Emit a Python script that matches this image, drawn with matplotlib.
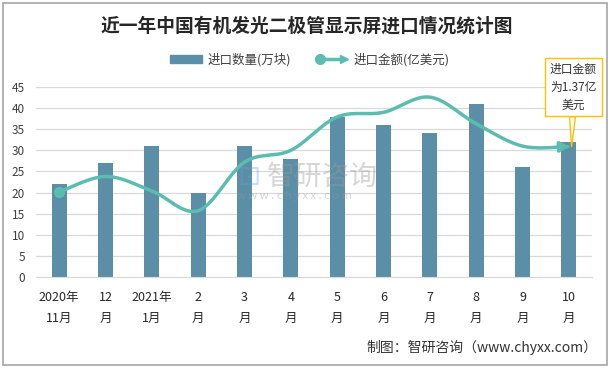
import numpy as np
import matplotlib
matplotlib.use("Agg")
import matplotlib.pyplot as plt
from matplotlib.patches import Rectangle
from matplotlib.lines import Line2D
from matplotlib.legend_handler import HandlerBase

plt.rcParams['font.family'] = ['Noto Sans CJK SC', 'DejaVu Sans']

months = ["2020年\n11月", "12\n月", "2021年\n1月", "2\n月", "3\n月", "4\n月",
          "5\n月", "6\n月", "7\n月", "8\n月", "9\n月", "10\n月"]
qty = [22, 27, 31, 20, 31, 28, 38, 36, 34, 41, 26, 32]
amount = [20.1, 23.8, 20.4, 15.7, 27.2, 30.0, 37.9, 39.0, 42.6, 36.3, 31.0, 30.9]

BAR_C = "#5b8fa8"
LINE_C = "#5bbdb0"


def smooth(xs, ys, n=30):
    # excel style smoothed line (bezier through points)
    xs = np.asarray(xs, float)
    ys = np.asarray(ys, float)
    px = np.concatenate([[xs[0]], xs, [xs[-1]]])
    py = np.concatenate([[ys[0]], ys, [ys[-1]]])
    outx, outy = [], []
    t = np.linspace(0, 1, n)
    for i in range(1, len(px) - 2):
        p0 = np.array([px[i - 1], py[i - 1]])
        p1 = np.array([px[i], py[i]])
        p2 = np.array([px[i + 1], py[i + 1]])
        p3 = np.array([px[i + 2], py[i + 2]])
        c1 = p1 + (p2 - p0) / 6
        c2 = p2 - (p3 - p1) / 6
        b = ((1 - t) ** 3)[:, None] * p1 + (3 * (1 - t) ** 2 * t)[:, None] * c1 \
            + (3 * (1 - t) * t ** 2)[:, None] * c2 + (t ** 3)[:, None] * p2
        outx.extend(b[:, 0])
        outy.extend(b[:, 1])
    return np.array(outx), np.array(outy)


class ArrowLineHandler(HandlerBase):
    def create_artists(self, legend, orig_handle, xdescent, ydescent,
                       width, height, fontsize, trans):
        y = height / 2 - ydescent
        ln = Line2D([-xdescent + 3, width - xdescent - 4], [y, y],
                    color=LINE_C, lw=2.5, transform=trans)
        dot = Line2D([-xdescent + 3], [y], marker='o', ms=7, color=LINE_C,
                     transform=trans)
        tip = Line2D([width - xdescent - 3], [y], marker='>', ms=6,
                     color=LINE_C, transform=trans)
        return [ln, dot, tip]


fig = plt.figure(figsize=(6.13, 3.68), dpi=100)
ax = fig.add_axes([0.0587, 0.2473, 0.907, 0.5163])

x = np.arange(len(months))
ax.bar(x, qty, width=0.32, color=BAR_C, zorder=2)

sx, sy = smooth(x, amount)
ax.plot(sx[:-3], sy[:-3], color=LINE_C, lw=2.5, zorder=3, solid_capstyle='round')
ax.plot(x[0], amount[0], 'o', color=LINE_C, ms=7, zorder=4)
ax.annotate('', xy=(sx[-1], sy[-1]), xytext=(sx[-5], sy[-5]),
            arrowprops=dict(arrowstyle='-|>,head_length=0.5,head_width=0.3',
                            color=LINE_C, lw=2.5), zorder=4)

ax.set_xlim(-0.5, len(months) - 0.5)
ax.set_ylim(0, 45)
ax.set_yticks(range(0, 46, 5))
ax.set_xticks(x)
ax.set_xticklabels(months, linespacing=1.8, fontsize=9, color="#262626")
ax.tick_params(axis='x', length=0, pad=10)
ax.tick_params(axis='y', length=0, pad=8, labelsize=8.5, labelcolor="#404040")
ax.grid(axis='y', color="#d9d9d9", lw=0.9, zorder=0)
for s in ['top', 'right', 'left']:
    ax.spines[s].set_visible(False)
ax.spines['bottom'].set_color("#d9d9d9")

# callout
ax.annotate("进口金额\n为1.37亿\n美元", xy=(x[-1] + 0.06, amount[-1]),
            xytext=(x[-1] + 0.1, 45), ha='center', va='center',
            fontsize=8.5, color="#333333", linespacing=1.5,
            bbox=dict(boxstyle='square,pad=0.4', fc='white', ec='#ffc000', lw=1),
            arrowprops=dict(arrowstyle='wedge,tail_width=0.5', fc='white',
                            ec='#ffc000', lw=1, shrinkA=0, shrinkB=0),
            annotation_clip=False, zorder=6)

# watermark
fig.text(0.435, 0.519, "智研咨询", fontsize=20, color="#999999", alpha=0.4,
         ha='left', va='center')
fig.text(0.387, 0.467, "w w w . c h y x x . c o m", fontsize=8,
         color="#999999", alpha=0.4, ha='left', va='center')
fig.text(0.407, 0.519, "⊡", fontsize=20, color="#6a9fd0", alpha=0.35,
         ha='center', va='center', family='DejaVu Sans')

fig.suptitle("近一年中国有机发光二极管显示屏进口情况统计图", y=0.93, va='center',
             fontsize=13.5, fontweight='bold', color="#262626")

handles = [Rectangle((0, 0), 1, 1, color=BAR_C), Line2D([], [], color=LINE_C)]
fig.legend(handles, ["进口数量(万块)", "进口金额(亿美元)"],
           handler_map={Line2D: ArrowLineHandler()},
           loc='center', bbox_to_anchor=(0.505, 0.838), ncol=2, frameon=False,
           fontsize=9, handlelength=2.6, handleheight=0.7, columnspacing=2.0,
           handletextpad=0.4, labelcolor="#404040")

fig.text(0.975, 0.057, "制图：智研咨询（www.chyxx.com）", ha='right', va='center',
         fontsize=10, color="#333333")

fig.patches.append(Rectangle((0.005, 0.008), 0.985, 0.984, transform=fig.transFigure,
                             fill=False, ec="#a6a6a6", lw=1.2))

fig.savefig("out.png", dpi=100)
